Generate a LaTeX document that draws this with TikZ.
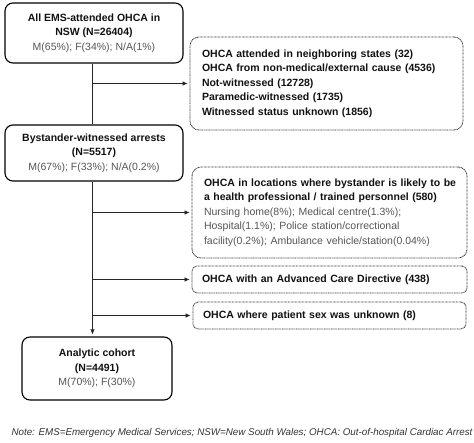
\documentclass[tikz,border=0pt]{standalone}
\usepackage{fontspec}
\setmainfont{Liberation Sans}
\usetikzlibrary{arrows.meta,calc}
\definecolor{txtgray}{HTML}{555555}
\definecolor{dotc}{HTML}{333333}
\definecolor{ink}{HTML}{111111}
\newcommand{\rg}[1]{{\color{txtgray}\mdseries #1}}
\begin{document}
\begin{tikzpicture}[x=1pt,y=-1pt,
  solidbox/.style={draw=black, line width=1.1pt, rounded corners=8pt, align=center,
    inner sep=0pt, text=ink, font=\fontsize{10.5}{14.5}\selectfont\bfseries},
  dotbox/.style={draw=dotc, line width=0.8pt, dash pattern=on 0.8pt off 0.6pt,
    rounded corners=9pt, align=left, inner ysep=0pt, text=ink,
    font=\fontsize{10.5}{14.5}\selectfont\bfseries},
  conn/.style={draw=black!85, line width=0.7pt},
  arr/.style={conn, -{Latex[length=5pt,width=4.5pt]}, shorten >=2pt}
]
\useasboundingbox (0,0) rectangle (474,442);
\coordinate (sp) at (92.5,0);

\node[solidbox, minimum width=178pt, minimum height=60pt] (b1) at (94,33)
  {All EMS-attended OHCA in\\NSW (N=26404)\\\rg{M(65\%); F(34\%); N/A(1\%)}};
\node[solidbox, minimum width=178pt, minimum height=56pt] (b2) at (94,153)
  {Bystander-witnessed arrests\\(N=5517)\\\rg{M(67\%); F(33\%); N/A(0.2\%)}};
\node[solidbox, minimum width=150pt, minimum height=63pt] (b7) at (97,368.5)
  {Analytic cohort\\(N=4491)\\\rg{M(70\%); F(30\%)}};

\node[dotbox, text width=249pt, inner xsep=12pt, minimum height=93pt] (b3) at (326.5,83.5)
  {\mbox{OHCA attended in neighboring states (32)}\\
   \mbox{OHCA from non-medical/external cause (4536)}\\
   \mbox{Not-witnessed (12728)}\\
   \mbox{Paramedic-witnessed (1735)}\\
   \mbox{Witnessed status unknown (1856)}};
\node[dotbox, text width=251pt, inner xsep=12pt, minimum height=91pt] (b4) at (329.5,212.5)
  {\mbox{OHCA in locations where bystander is likely to be}\\
   \mbox{a health professional / trained personnel (580)}\\
   \rg{\mbox{Nursing home(8\%); Medical centre(1.3\%);}}\\
   \rg{\mbox{Hospital(1.1\%); Police station/correctional}}\\
   \rg{\mbox{facility(0.2\%); Ambulance vehicle/station(0.04\%)}}};
\node[dotbox, rounded corners=5pt, text width=255pt, inner xsep=10pt, minimum height=27pt] (b5) at (329.5,279.5)
  {\mbox{OHCA with an Advanced Care Directive (438)}};
\node[dotbox, rounded corners=5pt, text width=253pt, inner xsep=10pt, minimum height=27pt] (b6) at (329.5,315.5)
  {\mbox{OHCA where patient sex was unknown (8)}};

\node[font=\fontsize{9.8}{11}\selectfont\itshape, text=black!80, inner sep=0pt] (note) at (242,433)
  {Note: EMS=Emergency Medical Services; NSW=New South Wales; OHCA: Out-of-hospital Cardiac Arrest};

\draw[conn] (b1.south -| sp) -- (b2.north -| sp);
\draw[arr] (sp |- b3.west) -- (b3.west);
\draw[arr] (b2.south -| sp) -- (b7.north -| sp);
\draw[arr] (sp |- b4.west) -- (b4.west);
\draw[arr] (sp |- b5.west) -- (b5.west);
\draw[arr] (sp |- b6.west) -- (b6.west);
\end{tikzpicture}
\end{document}
